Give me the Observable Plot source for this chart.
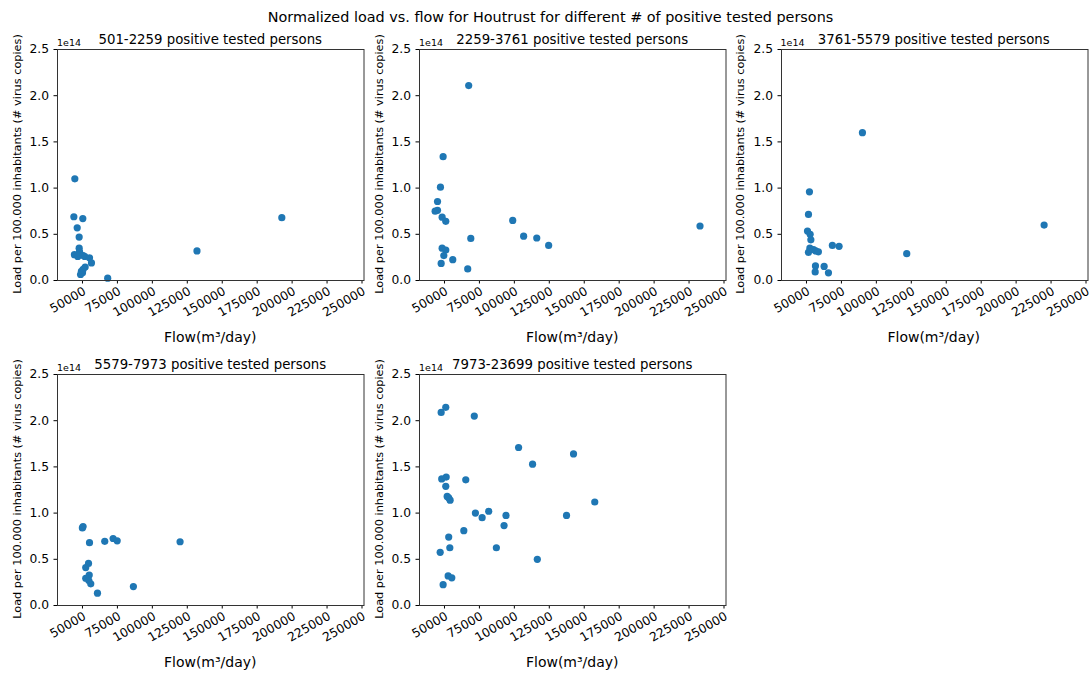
<!DOCTYPE html>
<html><head><meta charset="utf-8">
<script src="https://cdn.jsdelivr.net/npm/d3@7"></script>
<script src="https://cdn.jsdelivr.net/npm/@observablehq/plot@0.6"></script>
<style>
html,body{margin:0;padding:0;background:#fff;overflow:hidden}
#root{position:relative;width:1091px;height:675px;font-family:"DejaVu Sans",sans-serif;background:#fff}
#overlay{position:absolute;left:0;top:0;pointer-events:none}
</style></head><body><div id="root"></div>
<script>
const suptitle = "Normalized load vs. flow for Houtrust for different # of positive tested persons";
const groups = ["501-2259", "2259-3761", "3761-5579", "5579-7973", "7973-23699"];
const yLabel = "Load per 100.000 inhabitants (# virus copies)";
const xTicks = [50000, 75000, 100000, 125000, 150000, 175000, 200000, 225000, 250000];
const yTicks = [0, 0.5e14, 1.0e14, 1.5e14, 2.0e14, 2.5e14];

const flow1 = [43100, 42400, 48800, 44800, 46200, 46200, 46500, 42800, 45200, 47000, 49100, 50200, 53600, 55000, 50500, 49000, 47800, 48600, 47200, 66600, 130500, 191200];
const load1 = [1.10e14, 0.69e14, 0.67e14, 0.57e14, 0.47e14, 0.35e14, 0.31e14, 0.28e14, 0.26e14, 0.28e14, 0.27e14, 0.26e14, 0.245e14, 0.19e14, 0.145e14, 0.12e14, 0.10e14, 0.085e14, 0.065e14, 0.025e14, 0.32e14, 0.68e14];

const flow2 = [65900, 47600, 45700, 43600, 43600, 41900, 46900, 49500, 97400, 105200, 114600, 123100, 231400, 67400, 46900, 49500, 48100, 54500, 46200, 65200];
const load2 = [2.11e14, 1.34e14, 1.01e14, 0.855e14, 0.76e14, 0.75e14, 0.685e14, 0.64e14, 0.65e14, 0.48e14, 0.46e14, 0.38e14, 0.59e14, 0.455e14, 0.35e14, 0.33e14, 0.27e14, 0.225e14, 0.185e14, 0.125e14];

const flow3 = [88600, 50700, 50000, 49300, 51200, 51700, 51000, 50000, 53600, 55200, 57100, 67100, 71900, 55000, 54800, 61200, 64300, 120300, 218600];
const load3 = [1.60e14, 0.96e14, 0.715e14, 0.535e14, 0.50e14, 0.44e14, 0.35e14, 0.305e14, 0.335e14, 0.32e14, 0.31e14, 0.38e14, 0.37e14, 0.158e14, 0.093e14, 0.152e14, 0.083e14, 0.29e14, 0.60e14];

const flow4 = [48500, 49000, 53600, 64500, 70500, 73400, 118400, 52900, 50900, 53400, 50900, 53100, 54500, 59300, 85000];
const load4 = [0.84e14, 0.855e14, 0.68e14, 0.695e14, 0.725e14, 0.70e14, 0.69e14, 0.455e14, 0.41e14, 0.33e14, 0.295e14, 0.27e14, 0.235e14, 0.133e14, 0.205e14];

const flow5 = [46200, 49500, 69900, 101600, 140900, 111600, 46600, 49800, 49500, 63800, 50500, 51600, 52600, 156100, 70700, 75500, 80200, 92600, 135900, 91200, 62400, 51600, 52400, 85700, 45500, 115000, 51200, 53800, 47600];
const load5 = [2.09e14, 2.145e14, 2.05e14, 1.71e14, 1.64e14, 1.53e14, 1.37e14, 1.39e14, 1.29e14, 1.36e14, 1.18e14, 1.165e14, 1.14e14, 1.12e14, 1.00e14, 0.95e14, 1.02e14, 0.975e14, 0.975e14, 0.865e14, 0.81e14, 0.74e14, 0.625e14, 0.625e14, 0.575e14, 0.50e14, 0.32e14, 0.30e14, 0.225e14];

const panels = [[flow1, load1], [flow2, load2], [flow3, load3], [flow4, load4], [flow5, load5]];

const root = document.getElementById("root");
const cols = [57, 419, 780.5], rows = [48.5, 373.5], W = 306.5, H = 231;
const mL = 50, mT = 10, mR = 1.5, mB = 62;

panels.forEach(([flow, load], i) => {
  const col = i % 3, row = Math.floor(i / 3);
  const data = flow.map((f, j) => ({flow: f, load: load[j]}));
  const chart = Plot.plot({
    width: mL + W + mR, height: mT + H + mB,
    marginLeft: mL, marginTop: mT, marginRight: mR, marginBottom: mB,
    style: {fontFamily: "DejaVu Sans", fontSize: "12.3px", color: "#000", background: "transparent", overflow: "visible"},
    x: {domain: [30700, 250000]},
    y: {domain: [0, 2.5e14]},
    marks: [
      Plot.axisX({ticks: xTicks, tickFormat: d3.format("d"), tickRotate: -30, textAnchor: "end", lineAnchor: "top", tickSize: 3.5, tickPadding: 2, dx: -2, label: null}),
      Plot.axisY({ticks: yTicks, tickFormat: d => (d / 1e14).toFixed(1), tickSize: 3.5, tickPadding: 5, label: null}),
      Plot.dot(data, {x: "flow", y: "load", r: 3.6, fill: "#1f77b4"}),
      Plot.frame({stroke: "#333"})
    ]
  });
  chart.style.position = "absolute";
  chart.style.left = (cols[col] - mL) + "px";
  chart.style.top = (rows[row] - mT) + "px";
  root.appendChild(chart);
});

// text overlay
const svg = d3.select(root).append("svg").attr("id", "overlay").attr("width", 1091).attr("height", 675)
  .style("font-family", "DejaVu Sans").attr("fill", "#000");
svg.append("text").attr("x", 550.5).attr("y", 17).attr("text-anchor", "middle").attr("dominant-baseline", "central")
  .style("font-size", "14.4px").text(suptitle);
groups.forEach((g, i) => {
  const col = i % 3, row = Math.floor(i / 3);
  const left = cols[col], top = rows[row], cx = left + W / 2, cy = top + H / 2, bottom = top + H;
  svg.append("text").attr("x", cx).attr("y", top - 9.5).attr("text-anchor", "middle").attr("dominant-baseline", "central")
    .style("font-size", "13.3px").text(g + " positive tested persons");
  svg.append("text").attr("x", left).attr("y", top - 3).style("font-size", "9.5px").text("1e14");
  svg.append("text").attr("transform", `translate(${left - 40},${cy}) rotate(-90)`).attr("text-anchor", "middle")
    .attr("dominant-baseline", "central").style("font-size", "11.3px").text(yLabel);
  svg.append("text").attr("x", cx).attr("y", bottom + 57).attr("text-anchor", "middle").attr("dominant-baseline", "central")
    .style("font-size", "14px").text("Flow(m³/day)");
});
</script></body></html>
